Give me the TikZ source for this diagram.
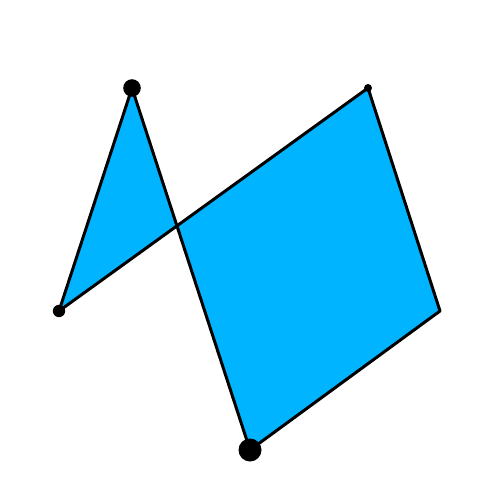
\documentclass[tikz,border=0pt]{standalone}
\definecolor{fillblue}{RGB}{0,180,255}
\begin{document}
\begin{tikzpicture}[x=0.02cm,y=-0.02cm,
  polyshape/.style={fill=fillblue,draw=black,line width=1.7pt,line join=round},
  dotfill/.style={fill=black}]
\useasboundingbox (0,0) rectangle (500,500);
\coordinate (a) at (132,88);
\coordinate (b) at (250,450);
\coordinate (c) at (440,311);
\coordinate (d) at (368,88);
\coordinate (e) at (59,311);
\draw[polyshape] (a) -- (b) -- (c) -- (d) -- (e) -- cycle;
\fill[dotfill] (a) circle[radius=8.8];
\fill[dotfill] (e) circle[radius=6.2];
\fill[dotfill] (b) circle[radius=11.5];
\fill[dotfill] (d) circle[radius=4];
\end{tikzpicture}
\end{document}
